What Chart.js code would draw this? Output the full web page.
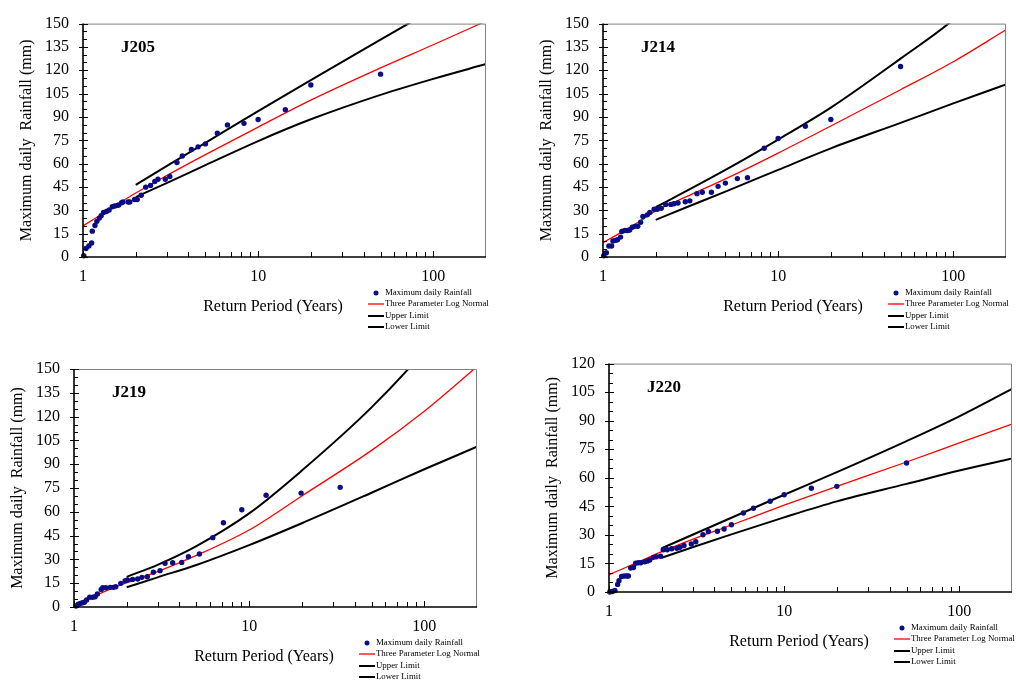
<!DOCTYPE html>
<html><head><meta charset="utf-8">
<script src="https://cdn.jsdelivr.net/npm/chart.js@4.4.1/dist/chart.umd.min.js"></script>
<style>
html,body{margin:0;padding:0;background:#fff;}
#wrap{position:relative;width:1016px;height:682px;overflow:hidden;background:#fff;}
canvas{position:absolute;}
</style></head>
<body><div id="wrap">
<canvas id="c1"></canvas><canvas id="c2"></canvas><canvas id="c3"></canvas><canvas id="c4"></canvas>
</div>
<script>
// ---------- data ----------
const xTickLabels = [1, 10, 100];
const yTicks150 = [0, 15, 30, 45, 60, 75, 90, 105, 120, 135, 150];
const yTicks120 = [0, 15, 30, 45, 60, 75, 90, 105, 120];
const fitT = [1, 1.5, 2, 3, 5, 10, 20, 50, 100, 200];
const limT = [2, 3, 5, 10, 20, 50, 100, 200];

const T205 = [1.01,1.04,1.08,1.12,1.13,1.17,1.20,1.24,1.27,1.31,1.36,1.41,1.47,1.52,1.57,1.60,1.66,1.69,1.81,1.85,1.97,2.04,2.15,2.28,2.43,2.57,2.68,2.95,3.13,3.44,3.69,4.16,4.54,5.0,5.85,6.68,8.3,10,14.3,20,50];
const V205 = [0.8,5.5,7.1,9.0,16.6,20.2,22.9,25.0,26.5,28.6,29.2,30.2,32.3,32.8,33.2,33.4,34.9,35.3,35.3,35.3,37.0,37.0,39.7,44.9,46.0,48.5,50.0,50.0,51.7,60.7,64.9,69.1,70.8,72.7,79.6,84.9,85.9,88.4,94.7,110.5,117.5];
const fit205 = [20, 32.3, 41.1, 52.3, 65.8, 83.5, 100.8, 121.5, 136.4, 151.6];
const up205  = [46.4, 58.4, 73.4, 93.8, 113.6, 139.7, 159.2, 178.8];
const low205 = [38.5, 47.5, 59, 74.5, 88.5, 104.2, 114.5, 124];

const T214 = [1.01,1.045,1.08,1.12,1.14,1.18,1.21,1.26,1.28,1.33,1.38,1.42,1.47,1.52,1.58,1.64,1.69,1.79,1.85,1.96,2.04,2.15,2.28,2.44,2.54,2.68,2.95,3.13,3.44,3.69,4.16,4.54,5.0,5.85,6.68,8.32,10,14.3,20,50];
const V214 = [0.8,2.7,7.1,7.1,10.3,10.7,11.1,12.8,16.4,17.0,17.0,17.4,19.1,19.7,19.7,22.3,26.0,27.1,28.6,30.7,30.7,31.3,33.8,33.8,34.2,34.7,35.5,36.1,40.7,41.6,41.6,45.4,47.5,50.4,51.0,69.9,76.2,84.0,88.4,122.4];
const fit214 = [9.2, 20.5, 29.6, 38.8, 50.2, 66.8, 84.2, 107.5, 125.5, 146];
const up214  = [32, 42.5, 56, 75.5, 96, 127.5, 152.5, 185];
const low214 = [23.9, 32.0, 42.0, 56.0, 69.8, 86.2, 98.7, 110.9];

const T219 = [1.027,1.059,1.09,1.12,1.146,1.18,1.23,1.28,1.32,1.36,1.43,1.46,1.52,1.61,1.68,1.73,1.85,1.96,2.02,2.16,2.31,2.44,2.62,2.84,3.10,3.31,3.66,4.12,4.50,5.20,6.20,7.13,9.08,12.5,19.8,33.1];
const V219 = [0.6,1.7,2.3,2.7,3.0,4.4,6.1,6.1,6.5,8.2,11.1,12.2,12.2,12.4,12.4,12.8,14.9,16.6,17.0,17.4,17.6,18.7,19.1,21.9,22.9,27.5,27.9,28.1,31.7,33.4,43.7,53.1,61.3,70.4,71.8,75.4];
const fit219 = [1.3, 9.8, 15.3, 22.3, 32.5, 48.5, 70, 98.7, 123.4, 151.5];
const up219  = [19, 26.6, 38.4, 59, 86, 125.8, 161.3, 202];
const low219 = [12.4, 18.7, 26.5, 39, 52.8, 72, 86.8, 101];

const T220 = [1.01,1.045,1.08,1.12,1.14,1.18,1.22,1.26,1.29,1.33,1.38,1.42,1.47,1.52,1.60,1.66,1.71,1.79,1.86,1.97,2.04,2.15,2.28,2.44,2.54,2.68,2.95,3.13,3.44,3.69,4.16,4.54,5.0,5.85,6.68,8.32,10,14.3,20,50];
const V220 = [0,0.3,0.8,4.0,5.9,8.2,8.4,8.4,8.4,12.6,12.9,15.1,15.4,15.4,15.9,16.3,16.8,18.2,18.5,18.8,22.2,22.2,22.7,23.0,23.5,24.4,25.2,26.4,30.1,31.8,31.9,33.1,35.3,41.5,44.0,47.7,51.1,54.5,55.5,67.8];
const fit220 = [9.1, 16.1, 21.2, 27.7, 35.2, 45.6, 55.5, 68.3, 78.3, 88.2];
const up220  = [23, 30.1, 39, 51.1, 63, 79.3, 92.3, 106.7];
const low220 = [18, 23.5, 30.3, 39.2, 47.6, 56.8, 63.8, 70.1];

const seriesNames = ['Maximum daily Rainfall', 'Three Parameter Log Normal', 'Upper Limit', 'Lower Limit'];
const xTitle = 'Return Period (Years)';
const yTitle = 'Maximum daily  Rainfall (mm)';

// ---------- layout / style ----------
const FONT = '"Liberation Serif", "Times New Roman", Times, serif';
const NAVY = '#0c0c84';
const panels = [
  {id:'c1', name:'J205', T:T205, V:V205, fit:fit205, up:up205, low:low205, yMax:150, yTicks:yTicks150, box:[0,0,510,340],   area:[83,19,486,257]},
  {id:'c2', name:'J214', T:T214, V:V214, fit:fit214, up:up214, low:low214, yMax:150, yTicks:yTicks150, box:[520,0,496,340], area:[603,19,1006,257]},
  {id:'c3', name:'J219', T:T219, V:V219, fit:fit219, up:up219, low:low219, yMax:150, yTicks:yTicks150, box:[0,345,510,337], area:[74,369,477,607]},
  {id:'c4', name:'J220', T:T220, V:V220, fit:fit220, up:up220, low:low220, yMax:120, yTicks:yTicks120, box:[520,340,496,342], area:[609,354,1012,592]}
];

function makeDecor(p) {
  return {
    id: 'decor',
    afterDraw(chart) {
      const {ctx, chartArea: a, scales: {x, y}} = chart;
      ctx.save();
      ctx.strokeStyle = '#808080'; ctx.lineWidth = 1;
      ctx.beginPath();
      ctx.moveTo(a.left, a.top + 0.5); ctx.lineTo(a.right - 0.5, a.top + 0.5); ctx.lineTo(a.right - 0.5, a.bottom);
      ctx.stroke();
      ctx.strokeStyle = '#000'; ctx.lineWidth = 1.6;
      ctx.beginPath();
      ctx.moveTo(a.left, a.top); ctx.lineTo(a.left, a.bottom); ctx.lineTo(a.right, a.bottom);
      ctx.stroke();
      ctx.lineWidth = 1;
      ctx.beginPath();
      for (let d = 1; d <= 100; d *= 10) {
        for (let k = 1; k <= 9; k++) {
          const v = d * k;
          if (v >= 200) break;
          const px = Math.round(x.getPixelForValue(v)) + 0.5;
          const len = k === 1 ? 6 : 5;
          ctx.moveTo(px, a.bottom); ctx.lineTo(px, a.bottom - len);
        }
      }
      for (let v = 0; v <= p.yMax; v += 5) {
        const py = Math.round(y.getPixelForValue(v)) + 0.5;
        if (v % 15 === 0) { ctx.moveTo(a.left - 4, py); ctx.lineTo(a.left + 5, py); }
        else { ctx.moveTo(a.left, py); ctx.lineTo(a.left + 4, py); }
      }
      ctx.stroke();
      ctx.fillStyle = '#000';
      ctx.textAlign = 'center'; ctx.textBaseline = 'middle';
      ctx.font = '16px ' + FONT;
      ctx.fillText(xTitle, a.left + 190, a.bottom + 50);
      ctx.save();
      ctx.translate(a.left - 56, (a.top + a.bottom) / 2);
      ctx.rotate(-Math.PI / 2);
      ctx.fillText(yTitle, 0, 0);
      ctx.restore();
      ctx.textAlign = 'left';
      ctx.font = 'bold 17px ' + FONT;
      ctx.fillText(p.name, a.left + 38, a.top + 24);
      const rows = [36, 47, 59, 70];
      ctx.font = '8.8px ' + FONT;
      chart.data.datasets.forEach((ds, i) => {
        const ry = a.bottom + rows[i];
        if (i === 0) {
          ctx.fillStyle = NAVY;
          ctx.beginPath(); ctx.arc(a.right - 110, ry, 2.5, 0, Math.PI * 2); ctx.fill();
        } else {
          ctx.strokeStyle = ds.borderColor; ctx.lineWidth = ds.borderWidth;
          ctx.beginPath(); ctx.moveTo(a.right - 118, ry); ctx.lineTo(a.right - 102, ry); ctx.stroke();
        }
        ctx.fillStyle = '#000';
        ctx.fillText(ds.label, a.right - 101, ry);
      });
      ctx.restore();
    }
  };
}

panels.forEach(p => {
  const cv = document.getElementById(p.id);
  const [bl, bt, bw, bh] = p.box;
  const [al, at, ar, ab] = p.area;
  cv.width = bw; cv.height = bh;
  cv.style.left = bl + 'px'; cv.style.top = bt + 'px';
  cv.style.width = bw + 'px'; cv.style.height = bh + 'px';
  const yW = al - bl, xH = (bt + bh) - ab, padTop = at - bt, padRight = (bl + bw) - ar;
  new Chart(cv, {
    type: 'scatter',
    data: {
      datasets: [
        {type: 'scatter', label: seriesNames[0], data: p.T.map((t, i) => ({x: t, y: p.V[i]})),
         pointRadius: 2.7, pointBackgroundColor: NAVY, pointBorderColor: NAVY, pointBorderWidth: 0, clip: 6},
        {type: 'line', label: seriesNames[1], data: fitT.map((t, i) => ({x: t, y: p.fit[i]})),
         borderColor: '#ff0000', borderWidth: 1.3, pointRadius: 0, fill: false, cubicInterpolationMode: 'monotone'},
        {type: 'line', label: seriesNames[2], data: limT.map((t, i) => ({x: t, y: p.up[i]})),
         borderColor: '#000000', borderWidth: 2, pointRadius: 0, fill: false, cubicInterpolationMode: 'monotone'},
        {type: 'line', label: seriesNames[3], data: limT.map((t, i) => ({x: t, y: p.low[i]})),
         borderColor: '#000000', borderWidth: 2, pointRadius: 0, fill: false, cubicInterpolationMode: 'monotone'}
      ]
    },
    options: {
      responsive: false, animation: false, events: [],
      layout: {padding: {left: 0, top: padTop, right: padRight, bottom: 0}},
      plugins: {legend: {display: false}, tooltip: {enabled: false}},
      scales: {
        x: {type: 'logarithmic', position: 'bottom', min: 1, max: 200,
            afterBuildTicks: s => { s.ticks = xTickLabels.map(v => ({value: v})); },
            afterFit: s => { s.height = xH; },
            ticks: {callback: v => String(v), font: {family: FONT, size: 16}, color: '#000', padding: 10, maxRotation: 0, autoSkip: false},
            grid: {display: false, drawTicks: false}, border: {display: false}},
        y: {type: 'linear', min: 0, max: p.yMax,
            afterBuildTicks: s => { s.ticks = p.yTicks.map(v => ({value: v})); },
            afterFit: s => { s.width = yW; },
            ticks: {font: {family: FONT, size: 16}, color: '#000', padding: 14},
            grid: {display: false, drawTicks: false}, border: {display: false}}
      }
    },
    plugins: [makeDecor(p)]
  });
});
</script>
</body></html>
